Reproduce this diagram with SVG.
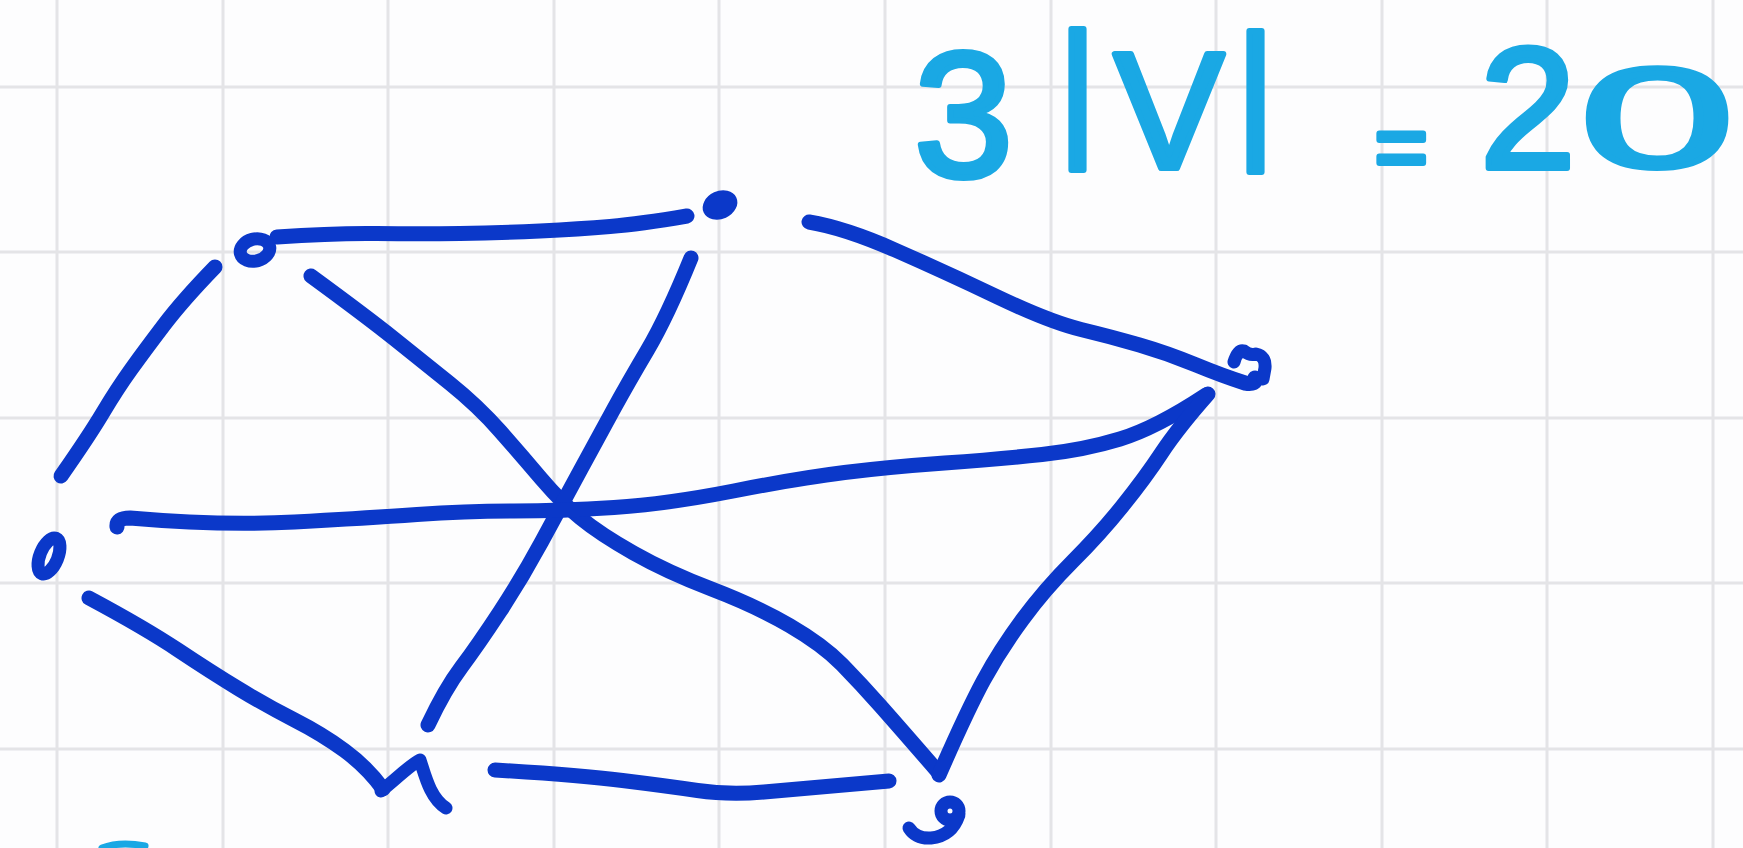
<svg xmlns="http://www.w3.org/2000/svg" width="1743" height="848" viewBox="0 0 1743 848">
<style>
.grid line{stroke:#e4e4e7;stroke-width:3}
.edge path{fill:none;stroke:#0b38c9;stroke-width:15;stroke-linecap:round;stroke-linejoin:round}
.node .ring{fill:none;stroke:#0b38c9;stroke-width:13}
.node .mark{fill:none;stroke:#0b38c9;stroke-width:13;stroke-linecap:round;stroke-linejoin:round}
.node .dot{fill:#0b38c9}
.eq{font-family:"Liberation Sans",Arial,sans-serif;font-size:165px;fill:#1aa8e4;stroke:#1aa8e4;stroke-width:6;stroke-linejoin:round}
</style>
<rect width="1743" height="848" fill="#fdfdfe"/>
<g class="grid">
<line x1="57" y1="0" x2="57" y2="848"/>
<line x1="223" y1="0" x2="223" y2="848"/>
<line x1="388" y1="0" x2="388" y2="848"/>
<line x1="554" y1="0" x2="554" y2="848"/>
<line x1="719" y1="0" x2="719" y2="848"/>
<line x1="885" y1="0" x2="885" y2="848"/>
<line x1="1051" y1="0" x2="1051" y2="848"/>
<line x1="1216" y1="0" x2="1216" y2="848"/>
<line x1="1382" y1="0" x2="1382" y2="848"/>
<line x1="1547" y1="0" x2="1547" y2="848"/>
<line x1="1713" y1="0" x2="1713" y2="848"/>
<line x1="0" y1="87" x2="1743" y2="87"/>
<line x1="0" y1="252" x2="1743" y2="252"/>
<line x1="0" y1="418" x2="1743" y2="418"/>
<line x1="0" y1="583" x2="1743" y2="583"/>
<line x1="0" y1="749" x2="1743" y2="749"/>
</g>
<g id="equation">
<text class="eq"><tspan x="914" y="176" font-size="178">3</tspan><tspan x="1058" y="138" font-size="150">|</tspan><tspan x="1114" y="168">V</tspan><tspan x="1236" y="140" font-size="150">|</tspan><tspan x="1350" y="178" font-size="90"> = </tspan><tspan x="1480" y="168" font-size="172">2</tspan></text>
<text class="eq" transform="translate(1580,167) scale(1.68,0.86)" x="0" y="0" stroke-width="4">0</text>
</g>
<g class="edge" id="connectors">
<path d="M277,237 Q333,233 376.5,233.5 Q420,234 460,233.5 Q500,233 540,231 Q580,229 610,226.5 Q640,224 687,216"/>
<path d="M809,222 Q845,228 895,250 Q945,272 997.5,297 Q1050,322 1081,329.5 Q1112,337 1139.5,345 Q1167,353 1195,364.5 Q1223,376 1245,383 Q1257,385 1255,378"/>
<path d="M215,267 Q183,300 164,325 Q145,350 131,369.5 Q117,389 103,412.5 Q89,436 61,476"/>
<path d="M311,276 Q367,317 394.5,339 Q422,361 450,383.5 Q478,406 500,431 Q522,456 541.5,479 Q561,502 580.5,518 Q600,534 633.5,553 Q667,572 711.5,589 Q756,606 789.5,625.5 Q823,645 842,664.5 Q861,684 880.5,706 Q900,728 939,773"/>
<path d="M691,258 Q667,317 647.5,350 Q628,383 614,408.5 Q600,434 580.5,470 Q561,506 541.5,542 Q522,578 500,611.5 Q478,645 461.5,667 Q445,689 428,725"/>
<path d="M117,527 Q116,518 130,518 Q222,526 294.5,522 Q367,518 417,514.5 Q467,511 514,511 Q561,511 614,507.5 Q667,504 733.5,491 Q800,478 844.5,472.5 Q889,467 944.5,463 Q1000,459 1042,454.5 Q1084,450 1120,439 Q1156,428 1206,395"/>
<path d="M1208,394 Q1178,428 1161.5,453 Q1145,478 1122.5,506 Q1100,534 1072.5,561.5 Q1045,589 1022.5,619.5 Q1000,650 983.5,680.5 Q967,711 939,775"/>
<path d="M89,598 Q145,628 178,650 Q211,672 239,689 Q267,706 294.5,720 Q322,734 344.5,750.5 Q367,767 383,789"/>
<path d="M495,770 Q578,775 622.5,780.5 Q667,786 697.5,790.5 Q728,795 764,792 Q800,789 889,781"/>
</g>
<g class="node" id="node-a"><ellipse class="ring" cx="255" cy="250" rx="15" ry="11" transform="rotate(-15 255 250)"/></g>
<g class="node" id="node-b"><ellipse class="dot" cx="720" cy="205" rx="18" ry="14" transform="rotate(-25 720 205)"/></g>
<g class="node" id="node-c"><path class="mark" d="M1234,362 Q1238,349 1244,351 Q1250,356 1256,354 Q1266,356 1265,368 L1263,379"/></g>
<g class="node" id="node-d"><ellipse class="ring" cx="49" cy="556" rx="9" ry="19" transform="rotate(22 49 556)"/></g>
<g class="node" id="node-e"><path class="mark" d="M381,791 C395,780 410,765 420,760 C425,775 430,798 446,808"/></g>
<g class="node" id="node-f"><circle class="ring" cx="950" cy="811" r="9"/><path class="mark" d="M959,815 Q952,836 931,838 Q916,839 909,828"/></g>
<path d="M102,848 Q120,841 145,846" fill="none" stroke="#1aa8e4" stroke-width="7" stroke-linecap="round"/>
</svg>
